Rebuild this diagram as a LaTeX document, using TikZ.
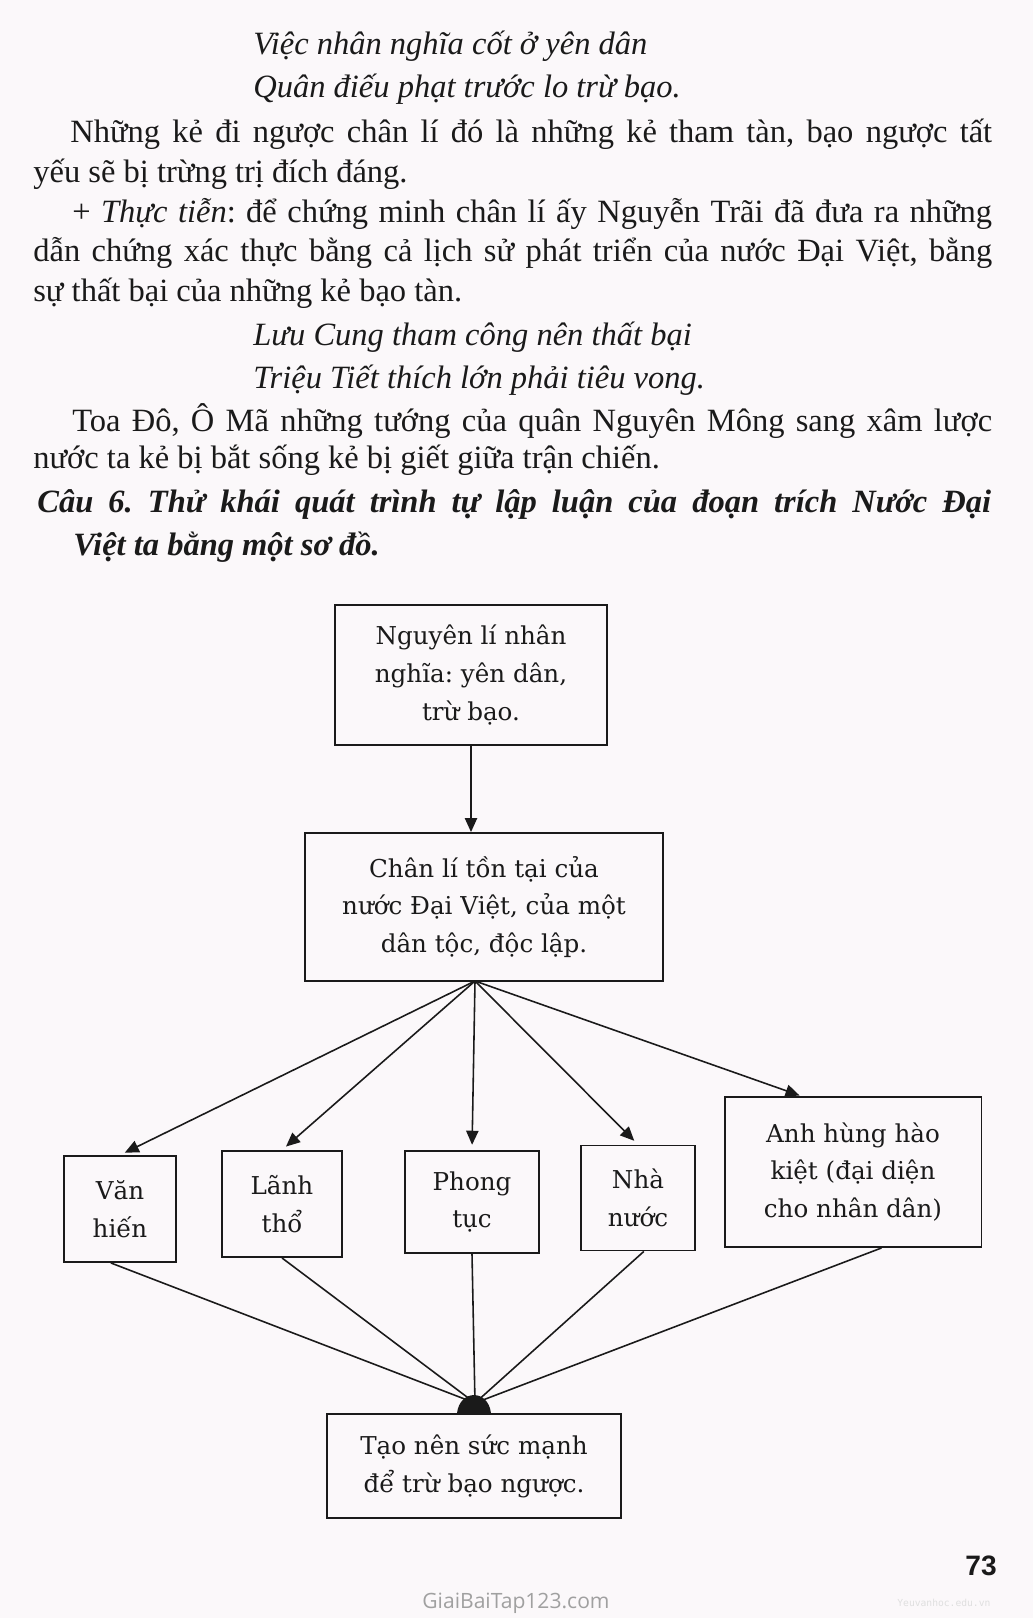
\documentclass[tikz,border=0pt]{standalone}
\usepackage{fontspec}
\setmainfont{Liberation Serif}
\newfontfamily\boxfont{DejaVu Serif}
\newfontfamily\pagefont{Liberation Sans}
\newfontfamily\markfont{Open Sans}
\newfontfamily\tinymono{DejaVu Sans Mono}
\usepackage{tikz}
\usetikzlibrary{arrows.meta,calc}
\definecolor{PageBg}{HTML}{FBF8FA}
\definecolor{InkDark}{HTML}{1A1A1A}
\definecolor{MarkGrey}{HTML}{A0A0A0}
\frenchspacing

\begin{document}
\begin{tikzpicture}[x=0.02cm, y=-0.02cm,
  box/.style={draw=InkDark, line width=1.1pt, align=center, inner sep=2pt, text=InkDark,
    font=\boxfont\fontsize{14pt}{21.5pt}\selectfont},
  line/.style={anchor=base west, inner sep=0pt, text=InkDark,
    font=\fontsize{18.5pt}{21pt}\selectfont},
  verse/.style={line, font=\itshape\fontsize{18.5pt}{21pt}\selectfont},
  qline/.style={line, font=\bfseries\itshape\fontsize{18.5pt}{21pt}\selectfont},
  link/.style={draw=InkDark, line width=0.9pt},
  arrow/.style={link, -{Triangle[length=8pt,width=7pt]}}]
  \fill[PageBg] (0,0) rectangle (1033,1618);
  \useasboundingbox (0,0) rectangle (1033,1618);

  % text above the diagram
  \node[verse] (v1) at (253,55) {Việc nhân nghĩa cốt ở yên dân};
  \node[verse] (v2) at (253,98) {Quân điếu phạt trước lo trừ bạo.};
  \node[line] (p1a) at (70,143) {\makebox[18.44cm][s]{Những kẻ đi ngược chân lí đó là những kẻ tham tàn, bạo ngược tất}};
  \node[line] (p1b) at (33,183) {yếu sẽ bị trừng trị đích đáng.};
  \node[line] (p2a) at (72,223) {\makebox[18.4cm][s]{+ \textit{Thực tiễn}: để chứng minh chân lí ấy Nguyễn Trãi đã đưa ra những}};
  \node[line] (p2b) at (33,262) {\makebox[19.18cm][s]{dẫn chứng xác thực bằng cả lịch sử phát triển của nước Đại Việt, bằng}};
  \node[line] (p2c) at (33,301) {sự thất bại của những kẻ bạo tàn.};
  \node[verse] (v3) at (253,345) {Lưu Cung tham công nên thất bại};
  \node[verse] (v4) at (253,388) {Triệu Tiết thích lớn phải tiêu vong.};
  \node[line] (p3a) at (72,431) {\makebox[18.4cm][s]{Toa Đô, Ô Mã những tướng của quân Nguyên Mông sang xâm lược}};
  \node[line] (p3b) at (33,468) {nước ta kẻ bị bắt sống kẻ bị giết giữa trận chiến.};
  \node[qline] (q1) at (37,512) {\makebox[19.08cm][s]{Câu 6. Thử khái quát trình tự lập luận của đoạn trích Nước Đại}};
  \node[qline] (q2) at (73,555) {Việt ta bằng một sơ đồ.};

  % diagram
  \node[box, minimum width=5.44cm, minimum height=2.8cm] (nguyenli) at (471,675)
    {Nguyên lí nhân\\nghĩa: yên dân,\\trừ bạo.};
  \node[box, minimum width=7.16cm, minimum height=2.96cm] (chanli) at (484,907)
    {Chân lí tồn tại của\\nước Đại Việt, của một\\dân tộc, độc lập.};
  \node[box, minimum width=2.24cm, minimum height=2.12cm] (vanhien) at (120,1209) {Văn\\hiến};
  \node[box, minimum width=2.4cm, minimum height=2.12cm] (lanhtho) at (282,1204) {Lãnh\\thổ};
  \node[box, minimum width=2.68cm, minimum height=2.04cm] (phongtuc) at (472,1202) {Phong\\tục};
  \node[box, minimum width=2.28cm, minimum height=2.1cm] (nhanuoc) at (638,1198) {Nhà\\nước};
  \node[box, minimum width=5.14cm, minimum height=3cm] (anhhung) at (853,1172)
    {Anh hùng hào\\kiệt (đại diện\\cho nhân dân)};
  \node[box, minimum width=5.88cm, minimum height=2.08cm] (taonen) at (474,1466)
    {Tạo nên sức mạnh\\để trừ bạo ngược.};

  \coordinate (fan) at (475,981);
  \coordinate (join) at (475,1403);

  \draw[arrow] (nguyenli.south) -- (nguyenli.south |- chanli.north);
  \foreach \b in {vanhien,lanhtho,phongtuc,nhanuoc}
    \draw[arrow, shorten >=3pt] (fan) -- (\b.north);
  \draw[arrow, shorten >=1pt] (fan) -- ($(anhhung.north west)!0.3!(anhhung.north east)$);

  \foreach \b/\f in {vanhien/0.42, lanhtho/0.5, phongtuc/0.5, nhanuoc/0.55, anhhung/0.61}
    \draw[link] ($(\b.south west)!\f!(\b.south east)$) -- (join);
  \fill[InkDark] ($(taonen.north)+(-17,0)$) .. controls ($(taonen.north)+(-14,-24)$)
    and ($(taonen.north)+(14,-24)$) .. ($(taonen.north)+(17,0)$) -- cycle;

  % page number and marks
  \node[anchor=base east, inner sep=0pt, text=InkDark,
    font=\pagefont\bfseries\fontsize{16pt}{16pt}\selectfont] (pagenum) at (997,1575) {73};
  \node[anchor=base west, inner sep=0pt, text=MarkGrey,
    font=\markfont\fontsize{12pt}{12pt}\selectfont] (mark) at (422,1608) {GiaiBaiTap123.com};
  \node[anchor=base west, inner sep=0pt, text=gray!25,
    font=\tinymono\fontsize{5.5pt}{6pt}\selectfont] (mark2) at (897,1606) {Yeuvanhoc.edu.vn};
\end{tikzpicture}
\end{document}
